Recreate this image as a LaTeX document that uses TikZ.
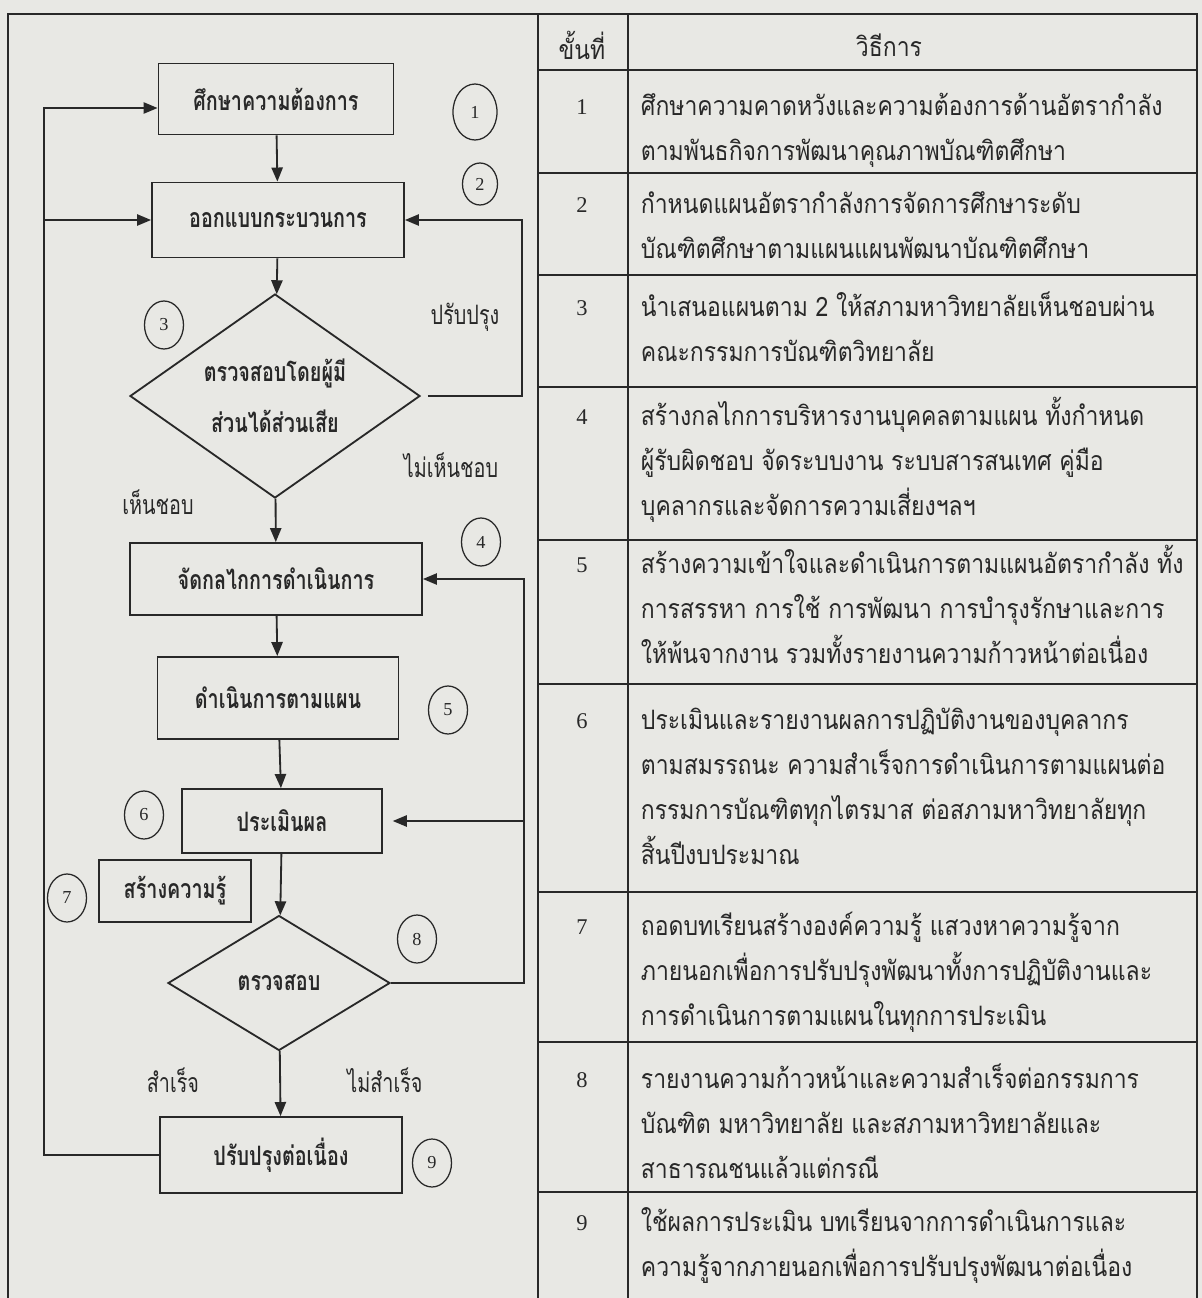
\documentclass[tikz,border=0pt]{standalone}
\usepackage{fontspec}
\setmainfont{Liberation Serif}
\newfontfamily\thaifont[Script=Thai,FakeStretch=0.86]{Loma}
\newfontfamily\thaicond[Script=Thai,FakeStretch=0.74]{Loma}
\usetikzlibrary{shapes.geometric,arrows.meta,calc}

\definecolor{paper}{RGB}{232,232,228}
\definecolor{ink}{RGB}{40,40,40}
\newcommand{\pxu}{0.025cm}

\begin{document}
\begin{tikzpicture}[x=0.025cm, y=-0.025cm, line width=1.3pt, color=ink,
    stepbox/.style={draw, rectangle, inner sep=0pt,
      font=\thaicond\bfseries\fontsize{19}{24}\selectfont},
    decision/.style={draw, diamond, aspect=1.6, inner sep=0pt, align=center,
      font=\thaicond\bfseries\fontsize{19}{36}\selectfont},
    stepnum/.style={draw, ellipse, inner sep=0pt, minimum width=39*\pxu,
      minimum height=48*\pxu, line width=0.9pt, font=\fontsize{13}{13}\selectfont},
    branch/.style={font=\thaicond\fontsize{19}{24}\selectfont},
    head/.style={font=\thaifont\fontsize{19}{24}\selectfont},
    flow/.style={-{Triangle[length=10pt,width=8pt]}},
    rowtext/.style={anchor=north west, inner sep=0pt, align=left,
      font=\thaifont\fontsize{19}{32}\selectfont},
    rownum/.style={font=\fontsize{16}{16}\selectfont},
  ]
  \fill[paper] (0,0) rectangle (1202,1298);
  \useasboundingbox (0,0) rectangle (1202,1298);

  % Outer frame and table grid
  \draw[line width=1pt] (8,1320) -- (8,14) -- (1197,14) -- (1197,1320);
  \draw[line width=1pt] (538,14) -- (538,1320);
  \draw[line width=1pt] (628,14) -- (628,1320);
  \foreach \y in {70,173,275,387,540,684,892,1042,1192}
    \draw[line width=1pt] (538,\y) -- (1197,\y);

  % Flowchart steps
  \node[stepbox, minimum width=235*\pxu, minimum height=71*\pxu] (need) at (276,99) {ศึกษาความต้องการ};
  \node[stepbox, minimum width=252*\pxu, minimum height=75*\pxu] (design) at (278,220) {ออกแบบกระบวนการ};
  \node[decision, minimum width=290*\pxu, minimum height=204*\pxu] (review) at (275,396) {ตรวจสอบโดยผู้มี\\ส่วนได้ส่วนเสีย};
  \node[stepbox, minimum width=292*\pxu, minimum height=72*\pxu] (mech) at (276,579) {จัดกลไกการดำเนินการ};
  \node[stepbox, minimum width=241*\pxu, minimum height=82*\pxu] (run) at (278,698) {ดำเนินการตามแผน};
  \node[stepbox, minimum width=200*\pxu, minimum height=64*\pxu] (assess) at (282,821) {ประเมินผล};
  \node[stepbox, minimum width=152*\pxu, minimum height=62*\pxu] (learn) at (175,891) {สร้างความรู้};
  \node[decision, minimum width=222*\pxu, minimum height=135*\pxu] (check) at (279,983) {ตรวจสอบ};
  \node[stepbox, minimum width=242*\pxu, minimum height=76*\pxu] (improve) at (281,1155) {ปรับปรุงต่อเนื่อง};

  % Step numbers
  \node[stepnum, minimum width=44*\pxu, minimum height=56*\pxu] (n1) at (475,112) {1};
  \node[stepnum, minimum width=35*\pxu, minimum height=42*\pxu] (n2) at (480,184) {2};
  \node[stepnum] (n3) at (164,325) {3};
  \node[stepnum] (n4) at (481,542) {4};
  \node[stepnum] (n5) at (448,710) {5};
  \node[stepnum] (n6) at (144,815) {6};
  \node[stepnum] (n7) at (67,898) {7};
  \node[stepnum] (n8) at (417,939) {8};
  \node[stepnum] (n9) at (432,1163) {9};

  % Branch labels
  \node[branch] (revise) at (465,317) {ปรับปรุง};
  \node[branch] (reject) at (451,465) {ไม่เห็นชอบ};
  \node[branch] (approve) at (158,502) {เห็นชอบ};
  \node[branch] (pass) at (173,1080) {สำเร็จ};
  \node[branch] (fail) at (385,1080) {ไม่สำเร็จ};

  % Return lines
  \coordinate (backR) at (522,0);
  \coordinate (backRR) at (524,0);
  \coordinate (backL) at (44,0);

  % Main flow
  \draw[flow] (need) -- (design);
  \draw[flow] (design) -- (review);
  \draw[flow] (review) -- (mech);
  \draw[flow] (mech) -- (run);
  \draw[flow] (run) -- (assess);
  \draw[flow] (assess) -- (check);
  \draw[flow] (check) -- (improve);

  % Loops
  \draw[flow, shorten <=5pt] (review.east) -- (review.east -| backR) |- (design.east);
  \draw[flow] (check.east) -- (check.east -| backRR) |- (mech.east);
  \draw[flow, shorten >=7pt] (assess.east -| backRR) -- (assess.east);
  \draw[flow] (improve.west) -- (improve.west -| backL) |- ($(need.west)+(0,9)$);
  \draw[flow] (design.west -| backL) -- (design.west);

  % Table header
  \node[head] (hstep) at (582,45) {ขั้นที่};
  \node[head] (hmethod) at (889,45) {วิธีการ};

  % Table rows
  \node[rownum] (s1) at (582,107) {1};
  \node[rowtext] (m1) at (640,83) {\strut ศึกษาความคาดหวังและความต้องการด้านอัตรากำลัง\\ตามพันธกิจการพัฒนาคุณภาพบัณฑิตศึกษา};
  \node[rownum] (s2) at (582,205) {2};
  \node[rowtext] (m2) at (640,181) {\strut กำหนดแผนอัตรากำลังการจัดการศึกษาระดับ\\บัณฑิตศึกษาตามแผนแผนพัฒนาบัณฑิตศึกษา};
  \node[rownum] (s3) at (582,308) {3};
  \node[rowtext] (m3) at (640,284) {\strut นำเสนอแผนตาม 2 ให้สภามหาวิทยาลัยเห็นชอบผ่าน\\คณะกรรมการบัณฑิตวิทยาลัย};
  \node[rownum] (s4) at (582,417) {4};
  \node[rowtext] (m4) at (640,393) {\strut สร้างกลไกการบริหารงานบุคคลตามแผน ทั้งกำหนด\\ผู้รับผิดชอบ จัดระบบงาน ระบบสารสนเทศ คู่มือ\\บุคลากรและจัดการความเสี่ยงฯลฯ};
  \node[rownum] (s5) at (582,565) {5};
  \node[rowtext] (m5) at (640,541) {\strut สร้างความเข้าใจและดำเนินการตามแผนอัตรากำลัง ทั้ง\\การสรรหา การใช้ การพัฒนา การบำรุงรักษาและการ\\ให้พ้นจากงาน รวมทั้งรายงานความก้าวหน้าต่อเนื่อง};
  \node[rownum] (s6) at (582,721) {6};
  \node[rowtext] (m6) at (640,697) {\strut ประเมินและรายงานผลการปฏิบัติงานของบุคลากร\\ตามสมรรถนะ ความสำเร็จการดำเนินการตามแผนต่อ\\กรรมการบัณฑิตทุกไตรมาส ต่อสภามหาวิทยาลัยทุก\\สิ้นปีงบประมาณ};
  \node[rownum] (s7) at (582,927) {7};
  \node[rowtext] (m7) at (640,903) {\strut ถอดบทเรียนสร้างองค์ความรู้ แสวงหาความรู้จาก\\ภายนอกเพื่อการปรับปรุงพัฒนาทั้งการปฏิบัติงานและ\\การดำเนินการตามแผนในทุกการประเมิน};
  \node[rownum] (s8) at (582,1080) {8};
  \node[rowtext] (m8) at (640,1056) {\strut รายงานความก้าวหน้าและความสำเร็จต่อกรรมการ\\บัณฑิต มหาวิทยาลัย และสภามหาวิทยาลัยและ\\สาธารณชนแล้วแต่กรณี};
  \node[rownum] (s9) at (582,1223) {9};
  \node[rowtext] (m9) at (640,1199) {\strut ใช้ผลการประเมิน บทเรียนจากการดำเนินการและ\\ความรู้จากภายนอกเพื่อการปรับปรุงพัฒนาต่อเนื่อง};
\end{tikzpicture}
\end{document}
